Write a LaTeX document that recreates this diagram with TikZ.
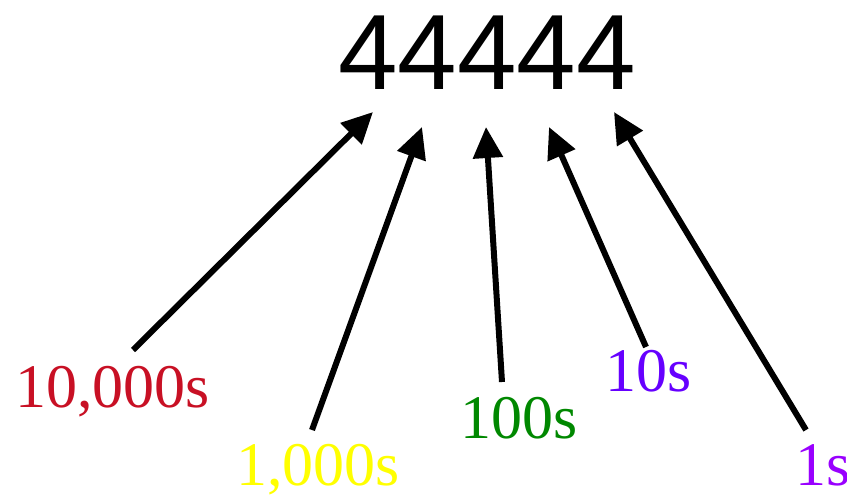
\documentclass[tikz,border=0pt]{standalone}
\usepackage{fontspec}
\setmainfont{Liberation Serif}
\newfontfamily\numfont{Liberation Sans}
\usetikzlibrary{arrows.meta}
\definecolor{tenthousands}{RGB}{200,16,36}
\definecolor{thousands}{RGB}{255,255,0}
\definecolor{hundreds}{RGB}{0,136,0}
\definecolor{tens}{RGB}{102,0,255}
\definecolor{ones}{RGB}{153,0,255}
\begin{document}
\begin{tikzpicture}[x=1pt,y=-1pt,
  placelabel/.style={anchor=base west,inner sep=0pt,font=\fontsize{62}{62}\selectfont},
  pointer/.style={line width=6pt,-{Triangle[length=31pt,width=29pt]}}]
\useasboundingbox (0,0) rectangle (847,495);
% the number
\node[anchor=base west,inner sep=0pt,font=\numfont\fontsize{107}{107}\selectfont] (num) at (338,90) {44444};
% place-value labels
\node[placelabel,text=tenthousands] (l1) at (15,407) {10,000s};
\node[placelabel,text=thousands] (l2) at (236,485) {1,000s};
\node[placelabel,text=hundreds] (l3) at (460,438) {100s};
\node[placelabel,text=tens] (l4) at (605,391) {10s};
\node[placelabel,text=ones] (l5) at (795,485) {1s};
% arrow ends
\coordinate (s1) at (133,350); \coordinate (t1) at (373,112);
\coordinate (s2) at (312,430); \coordinate (t2) at (422,127);
\coordinate (s3) at (502,382); \coordinate (t3) at (486,127);
\coordinate (s4) at (646,347); \coordinate (t4) at (549,127);
\coordinate (s5) at (806,430); \coordinate (t5) at (614,112);
\foreach \i in {1,...,5}{\draw[pointer] (s\i) -- (t\i);}
\end{tikzpicture}
\end{document}
